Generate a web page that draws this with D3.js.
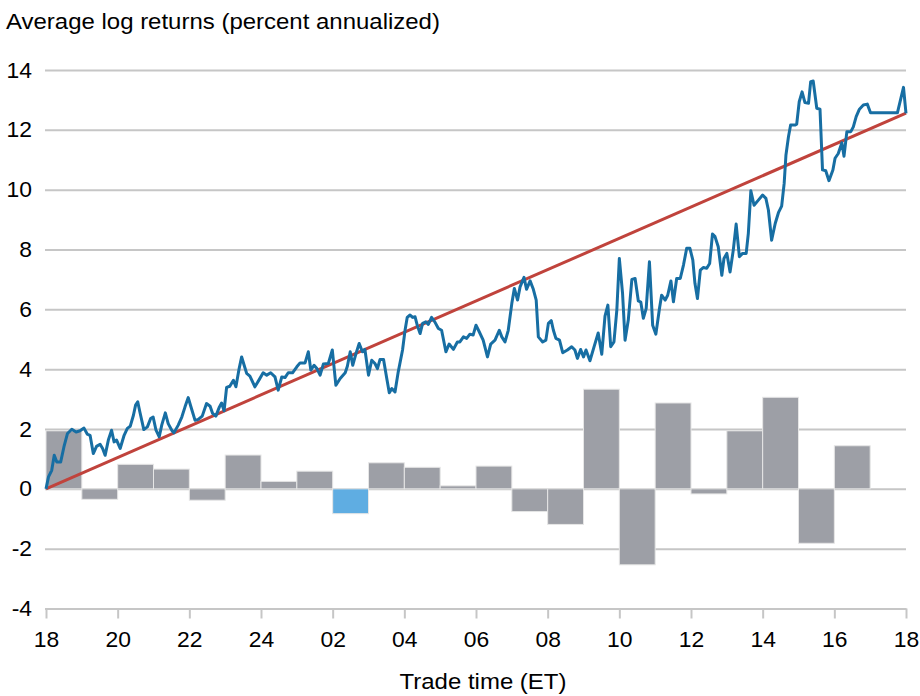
<!DOCTYPE html>
<html>
<head>
<meta charset="utf-8">
<script src="https://cdn.jsdelivr.net/npm/d3@7"></script>
<style>
  body { margin: 0; background: #fff; }
  svg { display: block; font-family: "Liberation Sans", Arial, sans-serif; }
</style>
</head>
<body>
<svg width="920" height="696"></svg>
<script>
// hourly bar values, one per trade hour starting 18:00 ET
const barHours = ["18","19","20","21","22","23","24","01","02","03","04","05",
  "06","07","08","09","10","11","12","13","14","15","16","17"];
const barValues = [1.94, -0.35, 0.82, 0.66, -0.38, 1.13, 0.25, 0.59, -0.83, 0.87, 0.72, 0.10,
  0.76, -0.76, -1.19, 3.33, -2.54, 2.87, -0.17, 1.94, 3.06, -1.82, 1.44, 0];
const highlightHour = "02";

// cumulative return path: [hours since 18:00, value]
const returnPath = [
  [0, 0], [0.07, 0.40], [0.16, 0.62], [0.23, 1.12], [0.30, 0.90], [0.41, 0.90], [0.50, 1.40],
  [0.60, 1.85], [0.72, 1.99], [0.84, 1.90], [0.95, 1.94], [1.06, 2.03], [1.15, 1.83], [1.23, 1.79],
  [1.32, 1.18], [1.41, 1.42], [1.51, 1.49], [1.58, 1.35], [1.65, 1.12], [1.74, 1.63], [1.83, 1.96],
  [1.90, 1.57], [1.97, 1.63], [2.07, 1.35], [2.18, 1.79], [2.27, 2.02], [2.35, 2.09], [2.44, 2.46],
  [2.50, 2.80], [2.56, 2.91], [2.62, 2.57], [2.73, 1.98], [2.83, 2.07], [2.92, 2.35], [2.99, 2.40],
  [3.07, 1.96], [3.16, 1.74], [3.23, 2.13], [3.33, 2.54], [3.41, 2.18], [3.51, 1.96], [3.57, 1.87],
  [3.69, 2.13], [3.79, 2.40], [3.88, 2.74], [3.97, 3.05], [4.04, 2.76], [4.16, 2.29], [4.25, 2.32],
  [4.36, 2.43], [4.48, 2.85], [4.58, 2.76], [4.65, 2.52], [4.74, 2.43], [4.84, 2.74], [4.90, 2.87],
  [4.97, 2.61], [5.04, 3.39], [5.13, 3.43], [5.23, 3.63], [5.30, 3.41], [5.39, 4.02], [5.46, 4.41],
  [5.53, 4.13], [5.60, 3.86], [5.69, 3.77], [5.83, 3.41], [5.95, 3.65], [6.06, 3.88], [6.16, 3.80],
  [6.27, 3.88], [6.39, 3.74], [6.48, 3.30], [6.58, 3.74], [6.67, 3.72], [6.76, 3.88], [6.88, 3.88],
  [7.00, 4.08], [7.09, 4.21], [7.23, 4.21], [7.32, 4.58], [7.39, 3.97], [7.48, 4.13], [7.56, 4.02],
  [7.65, 3.80], [7.74, 4.17], [7.88, 4.19], [7.99, 4.64], [8.09, 3.46], [8.21, 3.69], [8.35, 3.88],
  [8.41, 4.10], [8.49, 4.58], [8.56, 4.13], [8.65, 4.52], [8.74, 4.86], [8.83, 4.58], [8.90, 4.66],
  [9.00, 3.80], [9.09, 4.30], [9.18, 4.19], [9.25, 4.02], [9.32, 4.32], [9.42, 4.32], [9.51, 3.69],
  [9.58, 3.21], [9.65, 3.35], [9.74, 3.24], [9.83, 3.91], [9.95, 4.64], [10.02, 5.30], [10.08, 5.73],
  [10.16, 5.81], [10.23, 5.73], [10.30, 5.75], [10.36, 5.47], [10.44, 5.19], [10.51, 5.53],
  [10.60, 5.58], [10.67, 5.50], [10.76, 5.73], [10.85, 5.58], [10.95, 5.36], [11.04, 5.30],
  [11.16, 4.58], [11.25, 4.84], [11.37, 4.66], [11.48, 4.91], [11.55, 4.91], [11.65, 5.08],
  [11.74, 5.03], [11.83, 5.17], [11.92, 5.14], [12.00, 5.47], [12.09, 5.25], [12.20, 4.97],
  [12.32, 4.41], [12.41, 4.84], [12.53, 4.97], [12.65, 5.30], [12.72, 5.08], [12.81, 4.91],
  [12.90, 5.30], [13.00, 6.20], [13.07, 6.70], [13.16, 6.31], [13.23, 6.75], [13.34, 7.07],
  [13.41, 6.67], [13.51, 6.95], [13.60, 6.67], [13.68, 6.31], [13.74, 5.08], [13.86, 4.91],
  [13.95, 4.97], [14.02, 5.53], [14.10, 5.62], [14.16, 5.30], [14.23, 5.03], [14.33, 4.97],
  [14.42, 4.55], [14.55, 4.64], [14.67, 4.75], [14.76, 4.64], [14.83, 4.36], [14.92, 4.66],
  [15.00, 4.41], [15.07, 4.64], [15.18, 4.28], [15.29, 4.73], [15.41, 5.21], [15.51, 4.50],
  [15.60, 5.77], [15.68, 6.14], [15.76, 4.75], [15.85, 4.91], [15.93, 5.97], [16.00, 7.70],
  [16.09, 6.53], [16.16, 4.97], [16.25, 5.64], [16.35, 7.00], [16.44, 7.03], [16.53, 6.28],
  [16.60, 6.24], [16.67, 5.70], [16.75, 6.03], [16.84, 7.59], [16.93, 5.47], [17.02, 5.17],
  [17.12, 6.03], [17.18, 6.47], [17.28, 6.31], [17.35, 6.47], [17.44, 6.95], [17.51, 6.25],
  [17.60, 7.03], [17.70, 7.03], [17.79, 7.48], [17.88, 8.04], [17.97, 8.04], [18.05, 7.65],
  [18.11, 6.87], [18.18, 6.36], [18.26, 7.31], [18.35, 7.40], [18.44, 7.37], [18.52, 7.53],
  [18.60, 8.52], [18.67, 8.43], [18.76, 8.09], [18.86, 7.14], [18.92, 7.70], [19.00, 7.87],
  [19.09, 7.25], [19.18, 7.98], [19.26, 8.85], [19.35, 7.76], [19.44, 7.87], [19.54, 7.87],
  [19.60, 8.54], [19.67, 9.96], [19.76, 9.48], [19.88, 9.65], [20.00, 9.82], [20.09, 9.71],
  [20.16, 9.32], [20.25, 8.31], [20.35, 8.87], [20.44, 9.23], [20.53, 9.45], [20.60, 10.21],
  [20.65, 11.16], [20.72, 11.77], [20.78, 12.16], [20.90, 12.16], [20.95, 12.19], [21.02, 12.94],
  [21.10, 13.27], [21.18, 12.91], [21.28, 12.89], [21.34, 13.61], [21.41, 13.63], [21.51, 12.72],
  [21.60, 12.69], [21.67, 10.66], [21.76, 10.63], [21.85, 10.30], [21.96, 10.66], [22.02, 11.05],
  [22.11, 11.21], [22.21, 11.57], [22.27, 11.12], [22.35, 11.94], [22.46, 11.94], [22.53, 12.10],
  [22.61, 12.44], [22.70, 12.69], [22.81, 12.83], [22.92, 12.86], [23.01, 12.57], [23.76, 12.57],
  [23.93, 13.42], [24, 12.55]
];

// straight trend line endpoints
const trendPath = [[0, 0], [24, 12.56]];

// axis ticks
const xTickLabels = ["18","20","22","24","02","04","06","08","10","12","14","16","18"];
const yTicks = [-4, -2, 0, 2, 4, 6, 8, 10, 12, 14];

// chart dimensions
const svg = d3.select("svg");
const plotLeft = 46, plotRight = 906, plotTop = 70, plotBottom = 608.5;
const widen = 1.09;

const x = d3.scaleLinear().domain([0, 24]).range([plotLeft, plotRight]);
const y = d3.scaleLinear().domain([-4, 14]).range([plotBottom, plotTop]);

// gridlines and y labels (plain hyphen for negatives)
svg.append("g")
  .attr("transform", "translate(" + (plotLeft - 1) + ",0)")
  .call(d3.axisLeft(y)
    .tickValues(yTicks)
    .tickSize(-(plotRight - plotLeft + 1))
    .tickPadding(13)
    .tickFormat(d => String(d)))
  .call(g => g.select(".domain").remove())
  .call(g => g.selectAll("line").attr("stroke", "#c6c6c6").attr("stroke-width", 2))
  .call(g => g.selectAll("text")
    .attr("fill", "#000")
    .attr("x", -13 / 1.04)
    .attr("transform", "scale(1.04,1)")
    .style("font-size", "22px"));

// x axis ticks
svg.append("g")
  .attr("transform", "translate(0," + plotBottom + ")")
  .call(d3.axisBottom(x)
    .tickValues(d3.range(0, 25, 2))
    .tickSize(10)
    .tickSizeOuter(0)
    .tickPadding(13)
    .tickFormat((d, i) => xTickLabels[i]))
  .call(g => g.select(".domain").attr("stroke", "#c6c6c6").attr("stroke-width", 2))
  .call(g => g.selectAll("line").attr("stroke", "#c6c6c6").attr("stroke-width", 2))
  .call(g => g.selectAll("text")
    .attr("fill", "#000")
    .attr("transform", "scale(1.04,1)")
    .style("font-size", "22px"));

// hourly bars
svg.append("g")
  .selectAll("rect")
  .data(barValues)
  .enter()
  .append("rect")
  .attr("x", (d, i) => x(i))
  .attr("width", (d, i) => x(i + 1) - x(i))
  .attr("y", d => y(Math.max(0, d)))
  .attr("height", d => Math.abs(y(d) - y(0)))
  .attr("fill", (d, i) => barHours[i] == highlightHour ? "#5fade2" : "#9d9fa6")
  .attr("stroke", "#e6e6e6")
  .attr("stroke-width", 1);

const line = d3.line()
  .x(d => x(d[0]))
  .y(d => y(d[1]));

// trend line
svg.append("path")
  .datum(trendPath)
  .attr("d", line)
  .attr("fill", "none")
  .attr("stroke", "#c0433c")
  .attr("stroke-width", 3);

// cumulative returns
svg.append("path")
  .datum(returnPath)
  .attr("d", line)
  .attr("fill", "none")
  .attr("stroke", "#176ea3")
  .attr("stroke-width", 3)
  .attr("stroke-linejoin", "round");

// titles
svg.append("text")
  .attr("transform", "translate(6,29) scale(" + widen + ",1)")
  .style("font-size", "22px")
  .text("Average log returns (percent annualized)");

svg.append("text")
  .attr("transform", "translate(" + ((plotLeft + plotRight) / 2 + 7) + ",689) scale(" + widen + ",1)")
  .attr("text-anchor", "middle")
  .style("font-size", "22px")
  .text("Trade time (ET)");
</script>
</body>
</html>
